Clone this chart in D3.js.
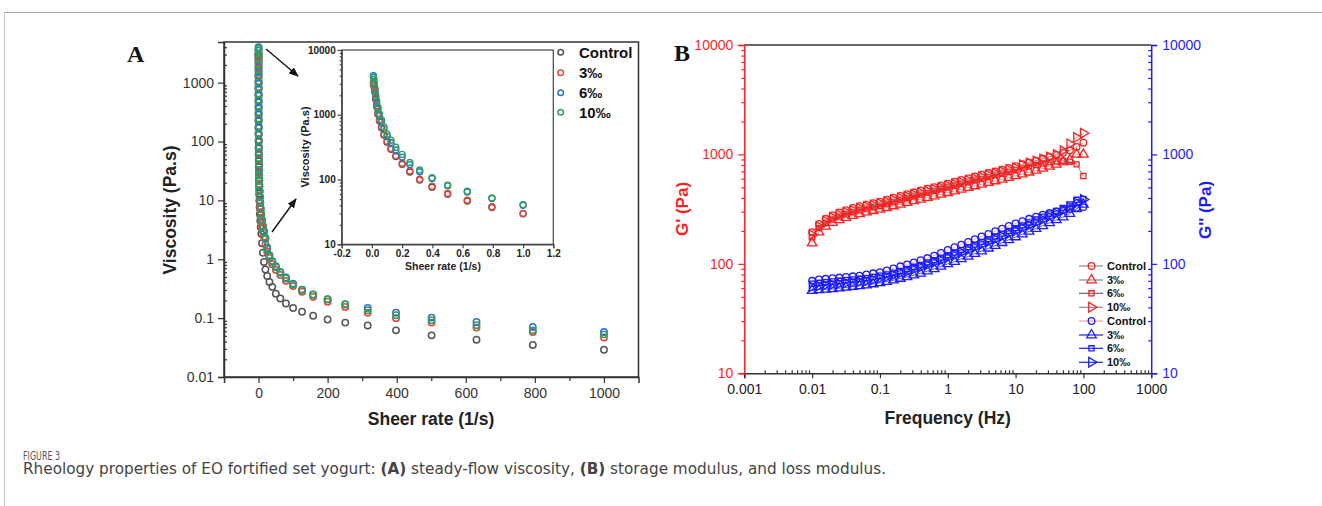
<!DOCTYPE html>
<html><head><meta charset="utf-8">
<script src="https://cdn.jsdelivr.net/npm/d3@7"></script>
<style>body{margin:0;background:#fff}svg{display:block}</style>
</head><body>
<svg id="c" width="1322" height="506"></svg>
<script>
// ---------- Panel A data ----------
const rates = [0.01,0.0126,0.0158,0.02,0.0251,0.0316,0.0398,0.0501,0.0631,0.0794,0.1,0.126,0.158,0.2,0.251,0.316,0.398,0.501,0.631,0.794,1,1.26,1.58,2,2.51,3.16,3.98,5.01,6.31,7.94,10,12.6,15.8,20,25.1,31.6,39.8,50.1,63.1,79.4,100,126,158,200,251,316,398,501,631,794,1000];
const viscControl = [3000,2850,2600,2200,1740,1340,1020,800,630,485,378,293,226,172,131,98,76,59,46.5,37,29.5,22,17,13,10,7.6,5.8,4.5,3.5,2.7,1.87,1.29,0.9,0.67,0.52,0.41,0.34,0.26,0.215,0.177,0.149,0.128,0.11,0.095,0.084,0.075,0.062,0.051,0.043,0.035,0.029];
const visc3 = [3100,2950,2700,2270,1790,1380,1050,830,650,500,390,302,233,178,136,101,79,61,48,38,30,24,19,15,12,9.6,7.8,6.3,5.1,4.2,3.5,2.9,2.4,1.8,1.35,1.05,0.82,0.66,0.54,0.43,0.35,0.28,0.23,0.19,0.155,0.124,0.10,0.084,0.069,0.058,0.047];
const visc6 = [4000,3500,3000,2450,1900,1520,1220,960,770,600,460,370,285,222,170,132,104,80,64,51,40,32,26.5,21.5,17.5,14.2,11.3,9.0,7.2,5.8,4.7,3.7,3.0,2.3,1.58,1.17,0.93,0.76,0.61,0.49,0.385,0.305,0.252,0.21,0.173,0.149,0.124,0.102,0.086,0.071,0.058];
const visc10 = [3800,3550,3060,2560,2000,1620,1300,1030,830,650,500,405,315,245,183,140,107,82,66,52,41,33,27,22,18,14.5,11.5,9.2,7.3,5.8,4.6,3.6,2.9,2.2,1.5,1.12,0.9,0.73,0.59,0.47,0.37,0.30,0.25,0.207,0.17,0.136,0.112,0.092,0.076,0.062,0.053];
const seriesNamesA = ["Control","3\u2030","6\u2030","10\u2030"];
const viscTicks = [0.01,0.1,1,10,100,1000];
const rateTicks = [0,200,400,600,800,1000];
const rateMinor = [100,300,500,700,900];
const insetRateTicks = [-0.2,0,0.2,0.4,0.6,0.8,1.0,1.2];
const insetViscTicks = [10,100,1000,10000];

// ---------- Panel B data ----------
const freqs = [0.01,0.0126,0.0158,0.02,0.0251,0.0316,0.0398,0.0501,0.0631,0.0794,0.1,0.126,0.158,0.2,0.251,0.316,0.398,0.501,0.631,0.794,1,1.26,1.58,2,2.51,3.16,3.98,5.01,6.31,7.94,10,12.6,15.8,20,25.1,31.6,39.8,50.1,63.1,79.4,100];
const gpControl = [195,232,258,278,295,310,324,336,348,359,370,386,402,418,434,451,468,486,503,521,540,562,584,606,629,652,676,700,725,752,780,815,845,878,912,950,990,1035,1090,1170,1280];
const gp3 = [155,195,220,238,252,265,276,287,297,306,315,326,338,350,363,376,389,403,417,432,447,463,480,497,515,533,552,572,593,615,638,662,688,716,746,778,812,850,890,1000,1000];
const gp6 = [175,212,236,254,270,284,297,309,320,330,340,354,368,383,398,413,429,445,462,480,498,517,536,556,577,598,620,643,667,692,718,745,773,800,826,850,866,875,858,812,635];
const gp10 = [185,220,246,265,282,297,310,322,334,345,356,370,385,400,415,431,447,464,481,499,518,538,559,580,602,625,648,673,698,725,753,805,836,870,908,950,1000,1080,1250,1430,1560];
const gppControl = [70,72,73,74,75,76,77,78,80,82,84,87,91,95,99,103,108,113,119,126,134,142,150,159,168,178,188,199,210,222,234,246,258,270,281,292,302,311,318,325,330];
const gpp3 = [57,58,58.5,59,60,61,62,63,64,65.5,67,69,71,73.5,76,79,82,86,90,95,100,105,111,117,124,131,139,147,156,166,176,187,198,210,223,237,252,268,288,318,350];
const gpp6 = [66,67,68,69,70,71,72,73,74,76,78,80,83,86,90,94,98,103,108,114,120,127,134,142,150,159,168,178,189,200,212,225,239,254,270,287,305,325,350,385,392];
const gpp10 = [62,63,64,65,66,67,68,69,70,72,74,76,79,82,85,89,93,98,103,108,114,120,127,134,142,150,159,168,178,189,200,212,225,239,254,270,288,308,332,362,387];
const freqTicks = [0.001,0.01,0.1,1,10,100,1000];
const modTicks = [10,100,1000,10000];
const legendB = ["Control","3\u2030","6\u2030","10\u2030","Control","3\u2030","6\u2030","10\u2030"];

// ---------- drawing ----------
const svg = d3.select("#c");
const FONT = "'Liberation Sans', Arial, sans-serif";
const colA = ["#555555","#e8453c","#2a6fdb","#2ea356"];
const seriesA = [viscControl, visc3, visc6, visc10];
const fmt = d3.format("~g");

// frame
svg.append("line").attr("x1",4.5).attr("x2",1322).attr("y1",12.5).attr("y2",12.5).attr("stroke","#a8a8a8").attr("stroke-width",1.2);
svg.append("line").attr("x1",4.5).attr("x2",4.5).attr("y1",12.5).attr("y2",506).attr("stroke","#c8c8c8").attr("stroke-width",1);

function styleAxis(g, color, txtColor, size, weight){
  g.select(".domain").attr("stroke",color).attr("stroke-width",1.5);
  g.selectAll(".tick line").attr("stroke",color).attr("stroke-width",1.2);
  g.selectAll(".tick text").attr("fill",txtColor).style("font-family",FONT).style("font-size",size+"px").style("font-weight",weight||"normal");
}
function minorOnly(scale, majors){
  return scale.ticks().filter(t => !majors.some(m => Math.abs(Math.log10(t)-Math.log10(m))<1e-6));
}

// ===== Panel A =====
const xA = d3.scaleLinear([-100,1100],[224,638.5]);
const yA = d3.scaleLog([0.01,4900],[377,42]);
const gA = svg.append("g");
gA.append("rect").attr("x",224).attr("y",42).attr("width",638.5-224).attr("height",377-42).attr("fill","none").attr("stroke","#333").attr("stroke-width",1.5);
let ax = gA.append("g").attr("transform","translate(224,0)").call(d3.axisLeft(yA).tickValues(viscTicks).tickFormat(fmt).tickSize(6).tickPadding(4));
styleAxis(ax,"#333","#333",14);
ax = gA.append("g").attr("transform","translate(224,0)").call(d3.axisRight(yA).tickValues(minorOnly(yA,viscTicks)).tickFormat("").tickSize(3));
styleAxis(ax,"#333","#333",14); ax.select(".domain").remove();
ax = gA.append("g").attr("transform","translate(0,377)").call(d3.axisBottom(xA).tickValues(rateTicks).tickFormat(fmt).tickSize(6).tickPadding(5));
styleAxis(ax,"#333","#333",14);
ax = gA.append("g").attr("transform","translate(0,377)").call(d3.axisBottom(xA).tickValues(rateMinor).tickFormat("").tickSize(4));
styleAxis(ax,"#333","#333",14); ax.select(".domain").remove();

gA.append("text").attr("transform","translate(176,210) rotate(-90)").attr("text-anchor","middle")
  .style("font-family",FONT).style("font-weight","bold").style("font-size","17.5px").attr("fill","#222").text("Viscosity (Pa.s)");
gA.append("text").attr("x",431).attr("y",425).attr("text-anchor","middle")
  .style("font-family",FONT).style("font-weight","bold").style("font-size","17.5px").attr("fill","#222").text("Sheer rate (1/s)");
svg.append("text").attr("x",127).attr("y",62).style("font-family","'Liberation Serif','Times New Roman',serif").style("font-weight","bold").style("font-size","24px").attr("fill","#111").text("A");

seriesA.forEach((vals,si)=>{
  gA.append("g").selectAll("circle").data(rates.map((r,i)=>[r,vals[i]])).join("circle")
    .attr("cx",d=>xA(d[0])).attr("cy",d=>yA(d[1])).attr("r",3.2)
    .attr("fill","none").attr("stroke",colA[si]).attr("stroke-width",1.5);
});

// legend A
const legRowsA = [52.3,72.7,92.7,112.3];
seriesNamesA.forEach((n,i)=>{
  gA.append("circle").attr("cx",560.7).attr("cy",legRowsA[i]).attr("r",2.8).attr("fill","none").attr("stroke",colA[i]).attr("stroke-width",1.5);
  gA.append("text").attr("x",579).attr("y",legRowsA[i]).attr("dy","0.36em").style("font-family",FONT).style("font-weight","bold").style("font-size","15px").attr("fill","#111").text(n);
});

// arrows
const defs = svg.append("defs");
defs.append("marker").attr("id","ah").attr("viewBox","0 0 10 10").attr("refX",9).attr("refY",5)
  .attr("markerWidth",7).attr("markerHeight",7).attr("orient","auto-start-reverse")
  .append("path").attr("d","M0,1 L10,5 L0,9 z").attr("fill","#111");
gA.append("line").attr("x1",266).attr("y1",49).attr("x2",298).attr("y2",76).attr("stroke","#111").attr("stroke-width",1.4).attr("marker-end","url(#ah)");
gA.append("line").attr("x1",272).attr("y1",232).attr("x2",296).attr("y2",199).attr("stroke","#111").attr("stroke-width",1.4).attr("marker-end","url(#ah)");

// inset
const xI = d3.scaleLinear([-0.2,1.2],[341.7,553.3]);
const yI = d3.scaleLog([10,10000],[244.3,50]);
const gI = svg.append("g");
gI.append("rect").attr("x",341.7).attr("y",50).attr("width",553.3-341.7).attr("height",244.3-50).attr("fill","#fff").attr("stroke","#444").attr("stroke-width",1.2);
ax = gI.append("g").attr("transform","translate(341.7,0)").call(d3.axisLeft(yI).tickValues(insetViscTicks).tickFormat(fmt).tickSize(4).tickPadding(2));
styleAxis(ax,"#444","#222",10,"bold"); ax.select(".domain").attr("stroke-width",1.2);
ax = gI.append("g").attr("transform","translate(341.7,0)").call(d3.axisLeft(yI).tickValues(minorOnly(yI,insetViscTicks)).tickFormat("").tickSize(2));
styleAxis(ax,"#444","#222",10); ax.select(".domain").remove();
ax = gI.append("g").attr("transform","translate(0,244.3)").call(d3.axisBottom(xI).tickValues(insetRateTicks).tickFormat(d=>d.toFixed(1)).tickSize(4).tickPadding(2));
styleAxis(ax,"#444","#222",10,"bold"); ax.select(".domain").attr("stroke-width",1.2);
gI.append("text").attr("transform","translate(309,147) rotate(-90)").attr("text-anchor","middle")
  .style("font-family",FONT).style("font-weight","bold").style("font-size","11px").attr("fill","#222").text("Viscosity (Pa.s)");
gI.append("text").attr("x",443).attr("y",270).attr("text-anchor","middle")
  .style("font-family",FONT).style("font-weight","bold").style("font-size","10.5px").attr("fill","#222").text("Sheer rate (1/s)");
seriesA.forEach((vals,si)=>{
  gI.append("g").selectAll("circle").data(rates.map((r,i)=>[r,vals[i]]).filter(d=>d[0]<=1.2)).join("circle")
    .attr("cx",d=>xI(d[0])).attr("cy",d=>yI(d[1])).attr("r",3)
    .attr("fill","none").attr("stroke",colA[si]).attr("stroke-width",1.4);
});

// ===== Panel B =====
const RED = "#ff1f1f", BLUE = "#1c1cff";
const xB = d3.scaleLog([0.001,1000],[744.3,1151.2]);
const yB = d3.scaleLog([10,10000],[373.3,45]);
const gB = svg.append("g");
gB.append("line").attr("x1",744.3).attr("x2",1151.2).attr("y1",45).attr("y2",45).attr("stroke","#333").attr("stroke-width",1.5);
ax = gB.append("g").attr("transform","translate(0,373.3)").call(d3.axisBottom(xB).tickValues(freqTicks).tickFormat(fmt).tickSize(5).tickPadding(6));
styleAxis(ax,"#333","#222",14);
ax = gB.append("g").attr("transform","translate(0,373.3)").call(d3.axisTop(xB).tickValues(minorOnly(xB,freqTicks)).tickFormat("").tickSize(3));
styleAxis(ax,"#333","#222",14); ax.select(".domain").remove();
ax = gB.append("g").attr("transform","translate(744.3,0)").call(d3.axisLeft(yB).tickValues(modTicks).tickFormat(fmt).tickSize(6).tickPadding(5));
styleAxis(ax,RED,RED,14);
ax = gB.append("g").attr("transform","translate(744.3,0)").call(d3.axisLeft(yB).tickValues(minorOnly(yB,modTicks)).tickFormat("").tickSize(3));
styleAxis(ax,RED,RED,14); ax.select(".domain").remove();
ax = gB.append("g").attr("transform","translate(1151.2,0)").call(d3.axisRight(yB).tickValues(modTicks).tickFormat(fmt).tickSize(6).tickPadding(5));
styleAxis(ax,BLUE,BLUE,14);
ax = gB.append("g").attr("transform","translate(1151.2,0)").call(d3.axisLeft(yB).tickValues(minorOnly(yB,modTicks)).tickFormat("").tickSize(3));
styleAxis(ax,BLUE,BLUE,14); ax.select(".domain").remove();

gB.append("text").attr("transform","translate(688,209) rotate(-90)").attr("text-anchor","middle")
  .style("font-family",FONT).style("font-weight","bold").style("font-size","17px").attr("fill",RED).text("G' (Pa)");
gB.append("text").attr("transform","translate(1211,210) rotate(-90)").attr("text-anchor","middle")
  .style("font-family",FONT).style("font-weight","bold").style("font-size","17px").attr("fill",BLUE).text("G'' (Pa)");
gB.append("text").attr("x",947.7).attr("y",424).attr("text-anchor","middle")
  .style("font-family",FONT).style("font-weight","bold").style("font-size","17.5px").attr("fill","#222").text("Frequency (Hz)");
svg.append("text").attr("x",674).attr("y",61).style("font-family","'Liberation Serif','Times New Roman',serif").style("font-weight","bold").style("font-size","24px").attr("fill","#111").text("B");

function marker(g, shape, x, y, color){
  if(shape==="circle") g.append("circle").attr("cx",x).attr("cy",y).attr("r",3.3).attr("fill","none").attr("stroke",color).attr("stroke-width",1.3);
  else if(shape==="square") g.append("path").attr("d",d3.symbol(d3.symbolSquare,26)()).attr("transform",`translate(${x},${y})`).attr("fill","none").attr("stroke",color).attr("stroke-width",1.3);
  else if(shape==="tri") g.append("path").attr("d",d3.symbol(d3.symbolTriangle,40)()).attr("transform",`translate(${x},${y})`).attr("fill","none").attr("stroke",color).attr("stroke-width",1.3);
  else g.append("path").attr("d",d3.symbol(d3.symbolTriangle,40)()).attr("transform",`translate(${x},${y}) rotate(90)`).attr("fill","none").attr("stroke",color).attr("stroke-width",1.3);
}
const seriesB = [
  {vals:gpControl, shape:"circle", color:RED, line:"#8a8a8a"},
  {vals:gp3, shape:"tri", color:RED, line:"#8a8a8a"},
  {vals:gp6, shape:"square", color:RED, line:"#666"},
  {vals:gp10, shape:"tright", color:RED, line:"#8a8a8a"},
  {vals:gppControl, shape:"circle", color:BLUE, line:"#f4a0a0"},
  {vals:gpp3, shape:"tri", color:BLUE, line:BLUE},
  {vals:gpp6, shape:"square", color:BLUE, line:BLUE},
  {vals:gpp10, shape:"tright", color:BLUE, line:BLUE}
];
const lineGen = d3.line().x(d=>xB(d[0])).y(d=>yB(d[1]));
seriesB.forEach(s=>{
  const pts = freqs.map((f,i)=>[f,s.vals[i]]);
  gB.append("path").attr("d",lineGen(pts)).attr("fill","none").attr("stroke",s.line).attr("stroke-width",0.8);
  const gm = gB.append("g");
  pts.forEach(p=>marker(gm, s.shape, xB(p[0]), yB(p[1]), s.color));
});

// legend B
const legRowsB = [266,280,293.3,307.3,321,335,348.3,362.3];
seriesB.forEach((s,i)=>{
  const y = legRowsB[i];
  gB.append("line").attr("x1",1079).attr("x2",1103).attr("y1",y).attr("y2",y).attr("stroke",s.line).attr("stroke-width",1.2);
  marker(gB, s.shape, 1091.5, y, s.color);
  gB.append("text").attr("x",1107).attr("y",y).attr("dy","0.36em").style("font-family",FONT).style("font-weight","bold").style("font-size","11px").attr("fill","#111").text(legendB[i]);
});

// caption
const CAP = "'DejaVu Sans Condensed','Liberation Sans Narrow','Open Sans',sans-serif";
svg.append("text").attr("x",23).attr("y",459.5).style("font-family",CAP).style("font-size","11.5px").attr("fill","#555").attr("textLength",37).attr("lengthAdjust","spacingAndGlyphs").text("FIGURE 3");
const cap = svg.append("text").attr("x",23).attr("y",474).style("font-family",CAP).style("font-size","15px").attr("fill","#444").attr("textLength",863).attr("lengthAdjust","spacingAndGlyphs");
cap.append("tspan").text("Rheology properties of EO fortified set yogurt: ");
cap.append("tspan").style("font-weight","bold").text("(A)");
cap.append("tspan").text(" steady-flow viscosity, ");
cap.append("tspan").style("font-weight","bold").text("(B)");
cap.append("tspan").text(" storage modulus, and loss modulus.");
</script>
</body></html>
